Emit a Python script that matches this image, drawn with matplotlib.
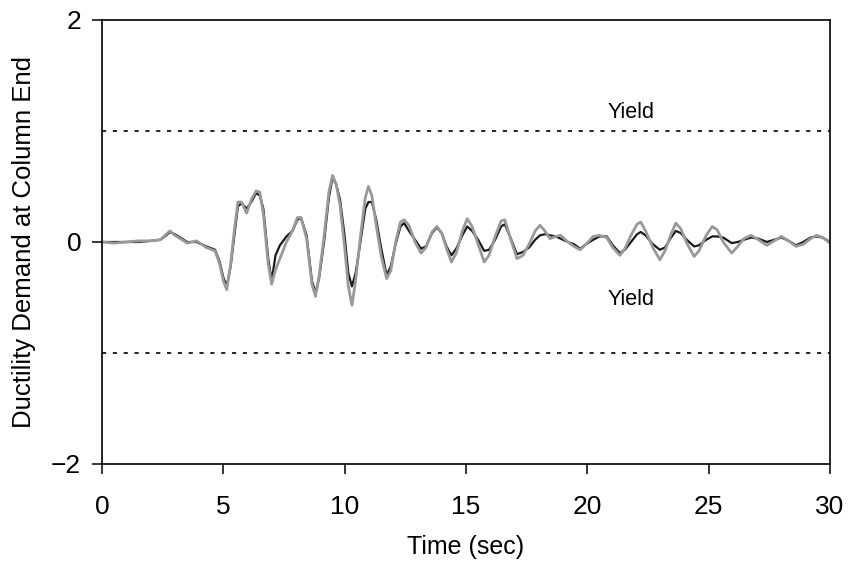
import numpy as np
import matplotlib.pyplot as plt

plt.rcParams['font.family'] = ['Liberation Sans', 'DejaVu Sans']

# time points (sec)
t = [0.0, 0.5, 1.0, 1.5, 2.0, 2.4, 2.65, 2.8, 3.0, 3.3, 3.5, 3.9, 4.3, 4.66,
     4.85, 5.0, 5.14, 5.3, 5.45, 5.6, 5.75, 5.96, 6.15, 6.35, 6.5, 6.65, 6.85,
     6.99, 7.15, 7.33, 7.6, 7.85, 8.05, 8.2, 8.43, 8.65, 8.8, 8.95, 9.15, 9.35,
     9.5, 9.65, 9.81, 10.0, 10.15, 10.3, 10.45, 10.65, 10.85, 10.98, 11.12,
     11.3, 11.5, 11.73, 11.9, 12.1, 12.3, 12.45, 12.65, 12.9, 13.15, 13.35,
     13.6, 13.8, 14.0, 14.2, 14.4, 14.6, 14.85, 15.05, 15.25, 15.5, 15.75,
     15.95, 16.2, 16.45, 16.6, 16.85, 17.1, 17.35, 17.6, 17.85, 18.05, 18.25,
     18.46, 18.7, 18.9, 19.2, 19.45, 19.7, 19.95, 20.24, 20.5, 20.8, 21.05,
     21.34, 21.55, 21.8, 22.05, 22.2, 22.4, 22.7, 22.99, 23.2, 23.45, 23.65,
     23.85, 24.1, 24.4, 24.6, 24.9, 25.15, 25.35, 25.6, 25.95, 26.2, 26.45,
     26.75, 27.05, 27.4, 27.7, 28.0, 28.3, 28.6, 28.9, 29.2, 29.45, 29.7, 30.0]

# gray trace
duct_gray = [0.0, -0.01, 0.0, 0.01, 0.01, 0.02, 0.07, 0.10, 0.06, 0.02, -0.01,
             0.01, -0.05, -0.08, -0.20, -0.35, -0.43, -0.20, 0.10, 0.36, 0.36,
             0.26, 0.38, 0.46, 0.45, 0.25, -0.20, -0.38, -0.25, -0.15, 0.0, 0.10,
             0.22, 0.22, 0.03, -0.38, -0.49, -0.30, 0.05, 0.45, 0.60, 0.52, 0.33,
             -0.05, -0.40, -0.57, -0.35, 0.05, 0.40, 0.50, 0.42, 0.15, -0.12,
             -0.33, -0.26, 0.0, 0.18, 0.20, 0.15, 0.0, -0.10, -0.05, 0.09, 0.14,
             0.08, -0.06, -0.18, -0.10, 0.10, 0.21, 0.14, -0.02, -0.18, -0.12,
             0.05, 0.19, 0.20, 0.02, -0.15, -0.12, -0.02, 0.10, 0.15, 0.10, 0.03,
             0.05, 0.06, 0.0, -0.04, -0.07, -0.02, 0.05, 0.06, 0.04, -0.05, -0.12,
             -0.06, 0.06, 0.16, 0.18, 0.10, -0.05, -0.16, -0.08, 0.07, 0.17, 0.12,
             -0.01, -0.13, -0.08, 0.06, 0.14, 0.11, 0.0, -0.10, -0.04, 0.03, 0.06,
             0.02, -0.03, 0.01, 0.05, 0.01, -0.04, -0.02, 0.03, 0.06, 0.04, -0.01]

# black trace
duct_black = [0.0, 0.0, 0.0, 0.0, 0.01, 0.02, 0.06, 0.09, 0.07, 0.03, 0.0, 0.0,
              -0.04, -0.07, -0.18, -0.32, -0.40, -0.22, 0.05, 0.32, 0.35, 0.30,
              0.36, 0.44, 0.42, 0.30, -0.15, -0.35, -0.12, -0.03, 0.05, 0.10,
              0.20, 0.22, 0.06, -0.35, -0.46, -0.32, 0.0, 0.40, 0.58, 0.52, 0.38,
              0.05, -0.28, -0.40, -0.28, 0.0, 0.30, 0.36, 0.36, 0.20, -0.05,
              -0.30, -0.22, -0.02, 0.14, 0.17, 0.10, 0.02, -0.06, -0.04, 0.08,
              0.13, 0.08, -0.04, -0.12, -0.06, 0.06, 0.14, 0.10, 0.02, -0.08,
              -0.07, 0.02, 0.14, 0.16, 0.03, -0.11, -0.09, -0.05, 0.02, 0.06,
              0.07, 0.06, 0.05, 0.03, 0.0, -0.02, -0.06, -0.02, 0.02, 0.05, 0.05,
              -0.03, -0.10, -0.07, 0.0, 0.07, 0.09, 0.06, -0.02, -0.07, -0.05,
              0.04, 0.10, 0.08, 0.02, -0.04, -0.03, 0.02, 0.05, 0.05, 0.04, -0.01,
              0.0, 0.02, 0.04, 0.03, 0.0, 0.02, 0.04, 0.01, -0.03, 0.0, 0.04,
              0.05, 0.04, 0.0]

yield_level = 1.0

fig = plt.figure(figsize=(8.53, 5.71), dpi=100)
ax = fig.add_axes([0.1196, 0.1874, 0.8534, 0.7776])

ax.plot(t, duct_black, color='#1a1a1a', lw=1.6)
ax.plot(t, duct_gray, color='#999999', lw=2.0)

ax.axhline(yield_level, color='black', lw=1.2, ls=(0, (2.5, 4)))
ax.axhline(-yield_level, color='black', lw=1.2, ls=(0, (2.5, 4)))
ax.text(21.8, 1.17, 'Yield', fontsize=15.5, ha='center', va='center')
ax.text(21.8, -0.52, 'Yield', fontsize=15.5, ha='center', va='center')

ax.set_xlim(0, 30)
ax.set_ylim(-2, 2)
ax.set_xticks([0, 5, 10, 15, 20, 25, 30])
ax.set_yticks([-2, 0, 2])
ax.tick_params(labelsize=19, width=1.1, length=7, direction='out')
ax.tick_params(axis='x', pad=15)
ax.tick_params(axis='y', pad=8)
for s in ax.spines.values():
    s.set_linewidth(1.2)

ax.set_xlabel('Time (sec)', fontsize=18, labelpad=12)
ax.set_ylabel('Ductility Demand at Column End', fontsize=18.5, labelpad=11)

fig.savefig('out.png', dpi=100)
